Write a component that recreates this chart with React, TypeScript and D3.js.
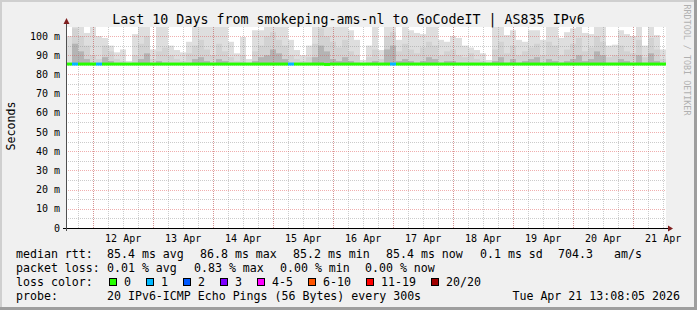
import React from "react";
import * as d3 from "d3";

const W = 697;
const H = 310;
const START = Date.UTC(2026, 3, 11, 13, 8, 5);
const END = Date.UTC(2026, 3, 21, 13, 8, 5);
const BIN_HOURS = 2.4;

// smoke (ms): top of lightest band, medium band, dark band
const smokeMax = [
  100, 105, 105, 101.6, 105, 100, 99, 95, 91.5, 93,
  87, 101, 105, 105, 93, 105, 105, 95, 92.7, 91.5,
  97, 105, 105, 105, 105, 105, 105, 97, 91, 99.5,
  88, 103, 103, 105, 105, 105, 105, 98, 92.7, 90,
  95, 105, 105, 105, 105, 105, 105, 103, 98, 87.5,
  95, 105, 92.7, 105, 105, 98, 105, 103, 101.6, 101,
  105, 105, 98, 97, 100, 99, 95, 94, 92.7, 91,
  87.5, 105, 105, 100.5, 103, 98, 97, 103, 103, 98,
  105, 105, 99, 102, 104, 105, 101.6, 101, 105, 105,
  95, 95.5, 103, 101, 100, 105, 95, 105, 100.5, 93,
];
const smokeMid = [
  85.4, 104, 100, 95, 90, 88, 95, 92, 88, 87,
  85.4, 90, 96, 100, 88, 92, 94, 90, 88, 87,
  91, 95, 98, 93, 90, 96, 92, 89, 87, 90,
  85.4, 92, 95, 100, 102, 98, 95, 90, 88, 87,
  89, 96, 104, 100, 97, 94, 98, 92, 90, 85.4,
  89, 93, 88, 100, 102, 92, 96, 93, 91, 94,
  97, 95, 90, 92, 93, 90, 89, 91, 88, 87,
  85.4, 93, 97, 91, 95, 90, 92, 94, 96, 90,
  97, 95, 90, 93, 96, 99, 92, 94, 100, 97,
  89, 90, 95, 92, 91, 98, 89, 99, 93, 88,
];
const smokeDark = [
  85.4, 96, 92, 88, 86, 85.4, 89, 87, 85.4, 85.4,
  85.4, 86, 88, 91, 85.4, 87, 86, 85.4, 85.4, 85.4,
  86, 88, 89, 87, 86, 88, 87, 85.4, 85.4, 86,
  85.4, 87, 89, 90, 93, 91, 88, 86, 85.4, 85.4,
  86, 89, 95, 92, 88, 87, 89, 87, 86, 85.4,
  86, 87, 85.4, 93, 95, 87, 88, 87, 86, 87,
  89, 88, 86, 87, 87, 86, 85.4, 86, 85.4, 85.4,
  85.4, 87, 89, 86, 88, 86, 87, 88, 89, 86,
  88, 87, 86, 87, 88, 90, 87, 88, 92, 90,
  86, 86, 88, 87, 86, 90, 86, 91, 87, 85.4,
];
const median = [
  85.4, 85.4, 85.4, 85.4, 85.4, 85.4, 85.4, 85.4, 85.4, 85.4,
  85.4, 85.4, 85.4, 85.4, 85.4, 85.4, 85.4, 85.4, 85.4, 85.4,
  85.4, 85.4, 85.4, 85.4, 85.4, 85.4, 85.4, 85.4, 85.4, 85.4,
  85.4, 85.4, 85.4, 85.4, 85.4, 85.4, 85.4, 85.4, 85.4, 85.4,
  85.4, 85.4, 85.4, 85.2, 85.4, 85.4, 85.4, 85.4, 85.4, 85.4,
  85.4, 85.4, 85.4, 85.4, 85.4, 85.4, 85.4, 85.4, 85.4, 85.4,
  85.4, 85.4, 85.4, 85.4, 85.4, 85.4, 85.4, 85.4, 85.4, 85.4,
  85.4, 85.4, 85.4, 85.4, 85.4, 85.4, 85.4, 85.4, 85.4, 85.4,
  85.4, 85.4, 85.4, 85.4, 85.4, 85.4, 85.4, 85.4, 85.4, 85.4,
  85.4, 85.4, 85.4, 85.4, 85.4, 85.4, 85.4, 85.4, 85.4, 85.4,
];
const lossCount = [
  0, 1, 0, 0, 0, 1, 0, 0, 0, 0,
  0, 0, 0, 0, 0, 0, 0, 0, 0, 0,
  0, 0, 0, 0, 0, 0, 0, 0, 0, 0,
  0, 0, 0, 0, 0, 0, 0, 1, 0, 0,
  0, 0, 0, 0, 0, 0, 0, 0, 0, 0,
  0, 0, 0, 0, 1, 0, 0, 0, 0, 0,
  0, 0, 0, 0, 0, 0, 0, 0, 0, 0,
  0, 0, 0, 0, 0, 0, 0, 0, 0, 0,
  0, 0, 0, 0, 0, 0, 0, 0, 0, 0,
  0, 0, 0, 0, 0, 0, 0, 0, 0, 0,
];

const yTickValues = [0, 10, 20, 30, 40, 50, 60, 70, 80, 90, 100];
const yTickLabels = ["0", "10 m", "20 m", "30 m", "40 m", "50 m", "60 m", "70 m", "80 m", "90 m", "100 m"];
const xTickLabels = ["12 Apr", "13 Apr", "14 Apr", "15 Apr", "16 Apr", "17 Apr", "18 Apr", "19 Apr", "20 Apr", "21 Apr"];

const lossLabels = ["0", "1", "2", "3", "4-5", "6-10", "11-19", "20/20"];
const lossColors = ["#26ff00", "#00b8ff", "#0059ff", "#7e00ff", "#ff00ff", "#ff5500", "#ff0000", "#a00000"];

const rttStats = ["85.4 ms avg", "86.8 ms max", "85.2 ms min", "85.4 ms now", "0.1 ms sd", "704.3", "am/s"];
const lossStats = ["0.01 % avg", "0.83 % max", "0.00 % min", "0.00 % now"];

const TITLE = "Last 10 Days from smokeping-ams-nl to GoCodeIT | AS835 IPv6";
const PROBE = "20 IPv6-ICMP Echo Pings (56 Bytes) every 300s";
const STAMP = "Tue Apr 21 13:08:05 2026";

const FONT = "'DejaVu Sans Mono', monospace";

function lossIndex(c: number) {
  if (c <= 3) return c;
  if (c <= 5) return 4;
  if (c <= 10) return 5;
  if (c <= 19) return 6;
  return 7;
}

export default function App() {
  const PL = 66, PR = 666, PT = 27, PB = 228;
  const x = d3.scaleTime().domain([new Date(START), new Date(END)]).range([PL, PR]);
  const y = d3.scaleLinear().domain([0, 104.7]).range([PB, PT]);
  const binT = (i: number) => new Date(START + i * BIN_HOURS * 3600 * 1000);

  const minorV = d3.utcHour.every(6)!.range(new Date(START), new Date(END));
  const majorV = d3.utcDay.range(new Date(START), new Date(END));
  const minorH = d3.range(5, 105, 10);

  const yc = (v: number) => Math.max(PT, y(v));

  const rttCols = [107, 200, 293, 386, 480, 558, 614];
  const lossCols = [107, 194, 280, 365];

  const sqX: number[] = [];
  let cx = 109;
  lossLabels.forEach((l) => {
    sqX.push(cx);
    cx += 30 + l.length * 7;
  });

  return (
    <svg width={W} height={H} style={{ position: "absolute", left: 0, top: 0 }} fontFamily={FONT}>
      <rect x={0} y={0} width={W} height={H} fill="#f0f0f0" />
      <rect x={0} y={0} width={W} height={2} fill="#cfcfcf" />
      <rect x={0} y={0} width={2} height={H} fill="#cfcfcf" />
      <rect x={0} y={H - 3} width={W} height={3} fill="#9e9e9e" />
      <rect x={W - 3} y={0} width={3} height={H} fill="#9e9e9e" />

      <rect x={PL} y={PT} width={PR - PL} height={PB - PT} fill="#ffffff" />

      {/* smoke */}
      {smokeMax.map((v, i) => {
        const x0 = x(binT(i)), x1 = x(binT(i + 1));
        const ym = y(median[i]);
        return (
          <g key={"s" + i}>
            <rect x={x0} y={yc(v)} width={x1 - x0} height={Math.max(0, ym - yc(v))} fill="#dedede" />
            <rect x={x0} y={yc(smokeMid[i])} width={x1 - x0} height={Math.max(0, ym - yc(smokeMid[i]))} fill="#d2d2d2" />
            <rect x={x0} y={yc(smokeDark[i])} width={x1 - x0} height={Math.max(0, ym - yc(smokeDark[i]))} fill="#b4b4b4" />
          </g>
        );
      })}

      {/* grid */}
      <g strokeDasharray="1,1" strokeWidth={1} shapeRendering="crispEdges">
        {minorV.map((d, i) => (
          <line key={"mv" + i} x1={Math.round(x(d)) + 0.5} x2={Math.round(x(d)) + 0.5} y1={PT} y2={PB} stroke="rgba(143,143,143,0.46)" />
        ))}
        {minorH.map((v, i) => (
          <line key={"mh" + i} x1={PL} x2={PR} y1={Math.round(y(v)) + 0.5} y2={Math.round(y(v)) + 0.5} stroke="rgba(143,143,143,0.46)" />
        ))}
        {majorV.map((d, i) => (
          <line key={"Mv" + i} x1={Math.round(x(d)) + 0.5} x2={Math.round(x(d)) + 0.5} y1={PT} y2={PB} stroke="rgba(222,80,80,0.46)" />
        ))}
        {yTickValues.slice(1).map((v, i) => (
          <line key={"Mh" + i} x1={PL} x2={PR} y1={Math.round(y(v)) + 0.5} y2={Math.round(y(v)) + 0.5} stroke="rgba(222,80,80,0.46)" />
        ))}
      </g>

      {/* median line coloured by loss */}
      {median.map((m, i) => (
        <line key={"m" + i} x1={x(binT(i))} x2={x(binT(i + 1))} y1={y(m)} y2={y(m)} stroke={lossColors[lossIndex(lossCount[i])]} strokeWidth={3} />
      ))}

      {/* axes */}
      <line x1={PL - 3} x2={PR + 5} y1={PB + 0.5} y2={PB + 0.5} stroke="#000" strokeWidth={1} />
      <line x1={PL + 0.5} x2={PL + 0.5} y1={PB + 3} y2={PT - 6} stroke="#4f4f4f" strokeWidth={1} />
      <path d={`M${PR + 2},${PB - 2.5} L${PR + 7},${PB + 0.5} L${PR + 2},${PB + 3.5} Z`} fill="#7f1f1f" />
      <path d={`M${PL - 2.5},${PT - 3} L${PL + 0.5},${PT - 9} L${PL + 3.5},${PT - 3} Z`} fill="#7f1f1f" />

      {/* y labels */}
      {yTickValues.map((v, i) => (
        <text key={"yl" + i} x={60} y={y(v) + 3.5} fontSize={10} textAnchor="end" fill="#000" style={{ whiteSpace: "pre" }}>
          {yTickLabels[i]}
        </text>
      ))}
      {/* x labels at noon */}
      {majorV.map((d, i) => (
        <text key={"xl" + i} x={x(new Date(+d + 12 * 3600 * 1000))} y={241.5} fontSize={10} textAnchor="middle" fill="#000">
          {xTickLabels[i]}
        </text>
      ))}

      <text x={348.5} y={24} fontSize={13.3} textAnchor="middle" fill="#000">{TITLE}</text>
      <text transform="translate(15,126) rotate(-90)" fontSize={11.6} textAnchor="middle" fill="#000">Seconds</text>
      <text transform="translate(684,60) rotate(90)" fontSize={8.4} textAnchor="middle" fill="#b0b0b0">RRDTOOL / TOBI OETIKER</text>

      {/* legend */}
      <g fontSize={11.6} fill="#000" style={{ whiteSpace: "pre" }}>
        <text x={16} y={257.5}>median rtt:</text>
        {rttStats.map((s, i) => (
          <text key={"r" + i} x={rttCols[i]} y={257.5}>{s}</text>
        ))}
        <text x={16} y={271.5}>packet loss:</text>
        {lossStats.map((s, i) => (
          <text key={"l" + i} x={lossCols[i]} y={271.5}>{s}</text>
        ))}
        <text x={16} y={285.5}>loss color:</text>
        {lossLabels.map((l, i) => (
          <g key={"lc" + i}>
            <rect x={sqX[i] + 0.5} y={278.5} width={7} height={7} fill={lossColors[i]} stroke="#000" strokeWidth={1} />
            <text x={sqX[i] + 15} y={285.5}>{l}</text>
          </g>
        ))}
        <text x={16} y={299.5}>probe:</text>
        <text x={107} y={299.5}>{PROBE}</text>
        <text x={680} y={299.5} textAnchor="end">{STAMP}</text>
      </g>
    </svg>
  );
}
